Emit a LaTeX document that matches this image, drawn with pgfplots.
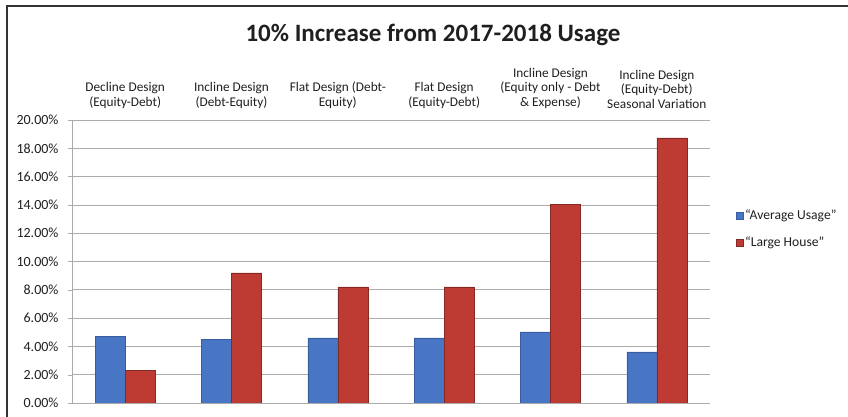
\documentclass[border=0pt]{standalone}
\usepackage{pgfplots}
\pgfplotsset{compat=1.18}
\usepackage{fontspec}
\setmainfont{Carlito}
\definecolor{barblue}{HTML}{4876C4}
\definecolor{barred}{HTML}{BE3B33}
\definecolor{gridgray}{HTML}{ABABAB}
\begin{document}
\begin{tikzpicture}[x=1pt,y=1pt]
\path[use as bounding box] (0,0) rectangle (848,417);
\draw[black!80, line width=1.2pt] (7,0) -- (7,411) -- (848,411);
\node[font=\fontsize{25}{28}\selectfont\bfseries, text=black!88] at (433,382) {10\% Increase from 2017-2018 Usage};
\begin{axis}[
  at={(72pt,14pt)}, anchor=south west,
  scale only axis, width=638pt, height=283pt,
  ybar=0pt, bar width=30pt,
  xmin=-0.5, xmax=5.5, ymin=0, ymax=20,
  axis line style={draw=none},
  xtick={0,1,2,3,4,5},
  xticklabels={{Decline Design\\(Equity-Debt)},{Incline Design\\(Debt-Equity)},{Flat Design (Debt-\\Equity)},{Flat Design\\(Equity-Debt)},{Incline Design\\(Equity only - Debt\\\& Expense)},{Incline Design\\(Equity-Debt)\\Seasonal Variation}},
  xticklabel pos=upper,
  xtick style={draw=none},
  xticklabel style={align=center, font=\fontsize{13.3}{14.5}\selectfont, text=black!88, anchor=south, yshift=4pt},
  extra x ticks={0.5,1.5,2.5,3.5,4.5,5.5},
  extra x tick labels={},
  extra x tick style={xtick pos=bottom, major tick length=4pt, tick style={draw=gridgray}, grid=none},
  ytick={0,2,...,20},
  yticklabel={\pgfmathprintnumber[fixed,fixed zerofill,precision=2]{\tick}\%},
  yticklabel style={font=\fontsize{14}{15}\selectfont, text=black!88, xshift=-6pt},
  ytick pos=left, tick align=outside, major tick length=4pt,
  ytick style={draw=gridgray},
  ymajorgrids, grid style={draw=gridgray, line width=0.6pt},
  /pgf/number format/assume math mode=true,
  legend style={draw=none, at={(1.04,0.615)}, anchor=west, font=\fontsize{13.6}{14.5}\selectfont, text=black!88, row sep=12pt, fill=none, inner sep=0pt},
  legend cell align=left,
  legend image code/.code={\fill[#1] (0pt,-3.5pt) rectangle (7pt,3.5pt);},
  clip=false,
]
\addplot[fill=barblue, draw=barblue!80!black] coordinates {(0,4.73) (1,4.52) (2,4.6) (3,4.6) (4,5.02) (5,3.62)};
\addplot[fill=barred, draw=barred!70!black] coordinates {(0,2.33) (1,9.19) (2,8.2) (3,8.2) (4,14.06) (5,18.73)};
\legend{``Average Usage'',``Large House''}
\draw[gridgray, line width=0.6pt] (rel axis cs:0,0) -- (rel axis cs:0,1);
\draw[gridgray, line width=0.6pt] (rel axis cs:0,0) -- (rel axis cs:1,0);
\end{axis}
\end{tikzpicture}
\end{document}
